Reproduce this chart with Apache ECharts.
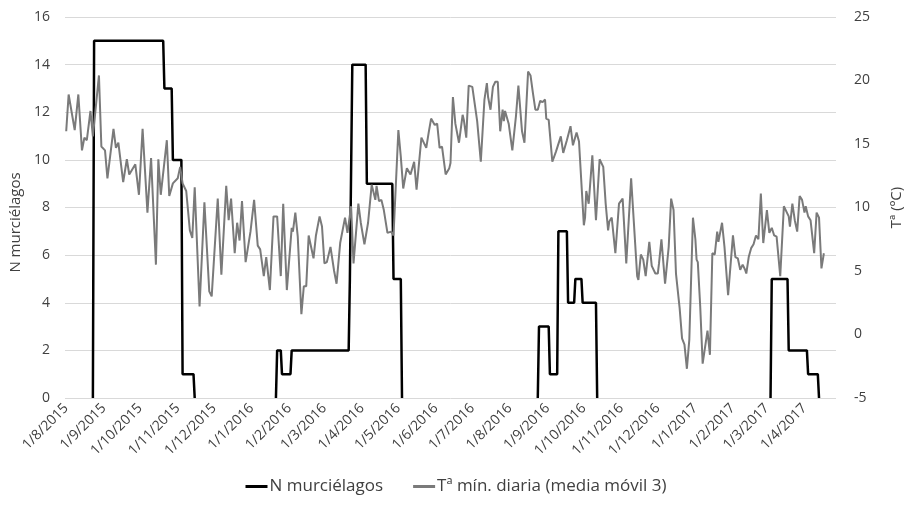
<!DOCTYPE html>
<html><head><meta charset="utf-8">
<script src="https://cdn.jsdelivr.net/npm/echarts@6/dist/echarts.min.js"></script>
<style>html,body{margin:0;padding:0;background:#fff}#c{width:912px;height:510px}</style>
</head><body><div id="c"></div>
<script>
// Day offsets are days since 1/8/2015
const monthLabels = ["1/8/2015","1/9/2015","1/10/2015","1/11/2015","1/12/2015","1/1/2016","1/2/2016","1/3/2016","1/4/2016","1/5/2016","1/6/2016","1/7/2016","1/8/2016","1/9/2016","1/10/2016","1/11/2016","1/12/2016","1/1/2017","1/2/2017","1/3/2017","1/4/2017"];

const batDays   = [22,23,80,81,87,88,95,96,105,106, 140, 173,174,177,178,185,186,233,234,235,236,247,248,269,270,276,277, 330, 389,390,398,399,405,406,413,414,419,420,425,426,437,438, 500, 581,582,595,596,611,612,620,621];
const batCounts = [0,15,15,13,13,10,10,1,1,0, null, 0,2,2,1,1,2,2,5,5,14,14,9,9,5,5,0, null, 0,3,3,1,1,7,7,4,4,5,5,4,4,0, null, 0,5,5,2,2,1,1,0];

const tempDays = [0,2,7,10,13,15,17,20,22,27,29,30,32,34,39,41,43,47,50,52,57,60,63,67,70,74,76,78,83,85,88,92,94,96,99,102,104,106,
110,114,118,120,125,128,132,134,136,139,141,143,145,148,152,155,158,160,163,165,168,171,174,177,179,182,186,187,189,191,194,196,198,200,204,206,209,211,
213,215,218,221,223,226,230,232,235,237,241,243,246,249,252,255,256,258,260,262,265,268,270,274,276,278,281,284,287,289,293,297,299,301,304,306,308,310,313,316,
317,319,321,324,327,328,330,332,335,336,339,342,345,347,348,350,352,354,356,358,360,361,362,365,368,371,373,376,378,381,383,385,387,389,391,393,395,396,398,401,404,408,410,413,416,418,421,
423,427,428,429,431,434,437,440,443,445,447,448,450,453,456,459,462,466,471,472,474,476,478,481,483,486,488,489,491,494,497,499,501,503,506,508,510,512,514,517,519,520,521,523,525,526,
529,531,533,535,537,538,541,543,546,550,552,554,556,558,560,561,563,565,567,569,571,573,575,578,580,582,584,586,589,592,594,596,597,599,601,603,605,607,609,610,612,614,617,619,621,623,625];
const tempValues = [16.0,18.9,16.1,18.9,14.5,15.5,15.3,17.6,15.6,20.4,14.8,14.9,14.5,12.3,16.2,14.7,15.1,12.0,13.8,12.6,13.4,11.0,16.2,9.6,13.9,5.5,13.8,11.0,15.3,10.9,11.9,12.3,13.2,11.9,11.3,8.2,7.6,11.6,
2.2,10.4,3.4,3.0,10.7,4.7,11.7,9.0,10.7,6.4,8.8,7.4,10.5,5.7,8.1,10.6,7.0,6.7,4.6,6.1,3.5,9.3,9.3,4.6,10.3,3.5,8.4,8.1,9.6,7.7,1.6,3.8,3.8,7.8,6.0,7.8,9.3,8.5,
5.6,5.7,6.9,5.0,4.0,7.2,9.2,8.0,10.1,5.6,10.3,8.8,7.1,8.8,11.8,10.6,11.7,10.5,10.6,9.8,8.0,8.1,7.8,16.1,14.0,11.5,13.1,12.6,13.6,11.4,15.5,14.7,15.9,17.0,16.5,16.6,14.7,14.8,12.6,13.1,
13.5,18.7,16.6,15.1,17.3,16.9,15.5,19.6,19.5,19.4,16.8,13.6,18.5,19.8,18.7,17.7,19.5,19.9,19.9,16.0,17.7,16.8,17.6,16.6,14.5,17.2,19.6,16.0,15.1,20.7,20.4,19.0,17.7,17.7,18.4,18.3,18.5,17.0,16.9,13.6,14.4,15.6,14.3,15.3,16.4,14.9,15.9,
15.2,8.6,9.2,11.3,10.3,14.1,9.0,13.8,13.2,10.3,8.2,8.9,9.2,6.4,10.3,10.7,5.6,12.3,4.6,4.3,6.3,5.9,4.6,7.3,5.4,4.8,4.8,5.6,7.5,4.0,6.9,10.7,9.8,4.8,2.1,-0.3,-0.8,-2.7,-0.4,9.2,7.5,5.9,5.7,2.2,-2.3,-2.4,
0.3,-1.6,6.4,6.3,8.1,7.3,8.8,6.9,3.1,7.8,6.1,6.0,5.1,5.5,5.1,4.8,6.1,6.8,7.1,7.8,7.5,11.1,7.2,9.8,8.0,8.4,7.8,7.7,4.6,10.1,9.7,9.3,8.5,10.3,9.0,8.1,10.9,10.6,9.6,10.1,9.3,9.0,6.4,9.6,9.2,5.2,6.4];

const leftTicks = {min: 0, max: 16, interval: 2};
const rightTicks = {min: -5, max: 25, interval: 5};

const base = Date.UTC(2015, 7, 1);
function dayOf(label) {
  const p = label.split('/').map(Number);
  return Math.round((Date.UTC(p[2], p[1] - 1, p[0]) - base) / 86400000);
}
const monthDays = monthLabels.map(dayOf);
const labelByDay = {};
monthDays.forEach((d, i) => { labelByDay[d] = monthLabels[i]; });

const batData = batDays.map((d, i) => [d, batCounts[i] === null ? '-' : batCounts[i]]);
const tempData = tempDays.map((d, i) => [d, tempValues[i]]);

const FONT = '"Open Sans", sans-serif';
const TXT = '#404040';
const chart = echarts.init(document.getElementById('c'), null, {renderer: 'canvas'});
chart.setOption({
  animation: false,
  backgroundColor: '#fff',
  grid: {left: 65, right: 75, top: 17, bottom: 112, containLabel: false},
  legend: {
    bottom: 10, left: 'center', itemGap: 30, itemWidth: 22, itemHeight: 3,
    icon: 'rect',
    textStyle: {fontFamily: FONT, fontSize: 17, color: TXT, padding: [0, 0, 0, -3]},
    data: ['N murciélagos', 'Tª mín. diaria (media móvil 3)']
  },
  xAxis: {
    type: 'value', min: -1, max: 635,
    axisLine: {show: false}, axisTick: {show: false}, splitLine: {show: false},
    axisLabel: {
      customValues: monthDays, rotate: 45, margin: 8,
      fontFamily: FONT, fontSize: 14, color: TXT,
      formatter: v => labelByDay[Math.round(v)] || ''
    }
  },
  yAxis: [{
    type: 'value', min: leftTicks.min, max: leftTicks.max, interval: leftTicks.interval,
    name: 'N murciélagos', nameLocation: 'middle', nameRotate: 90, nameGap: 42,
    nameTextStyle: {fontFamily: FONT, fontSize: 15, color: TXT, padding: [0, 30, 0, 0]},
    axisLine: {show: false}, axisTick: {show: false},
    axisLabel: {fontFamily: FONT, fontSize: 14, color: TXT, margin: 15},
    splitLine: {lineStyle: {color: '#d9d9d9', width: 1}}
  }, {
    type: 'value', min: rightTicks.min, max: rightTicks.max, interval: rightTicks.interval,
    name: 'Tª (ºC)', nameLocation: 'middle', nameRotate: 90, nameGap: 53,
    nameTextStyle: {fontFamily: FONT, fontSize: 15, color: TXT},
    axisLine: {show: false}, axisTick: {show: false},
    axisLabel: {fontFamily: FONT, fontSize: 14, color: TXT, margin: 18},
    splitLine: {show: false}
  }],
  series: [{
    name: 'N murciélagos', type: 'line', yAxisIndex: 0, data: batData,
    symbol: 'none', connectNulls: false, z: 2,
    lineStyle: {color: '#000', width: 2.5}, itemStyle: {color: '#000'}
  }, {
    name: 'Tª mín. diaria (media móvil 3)', type: 'line', yAxisIndex: 1, data: tempData,
    symbol: 'none', z: 3,
    lineStyle: {color: '#7a7a7a', width: 2}, itemStyle: {color: '#7a7a7a'}
  }]
});
</script>
</body></html>
